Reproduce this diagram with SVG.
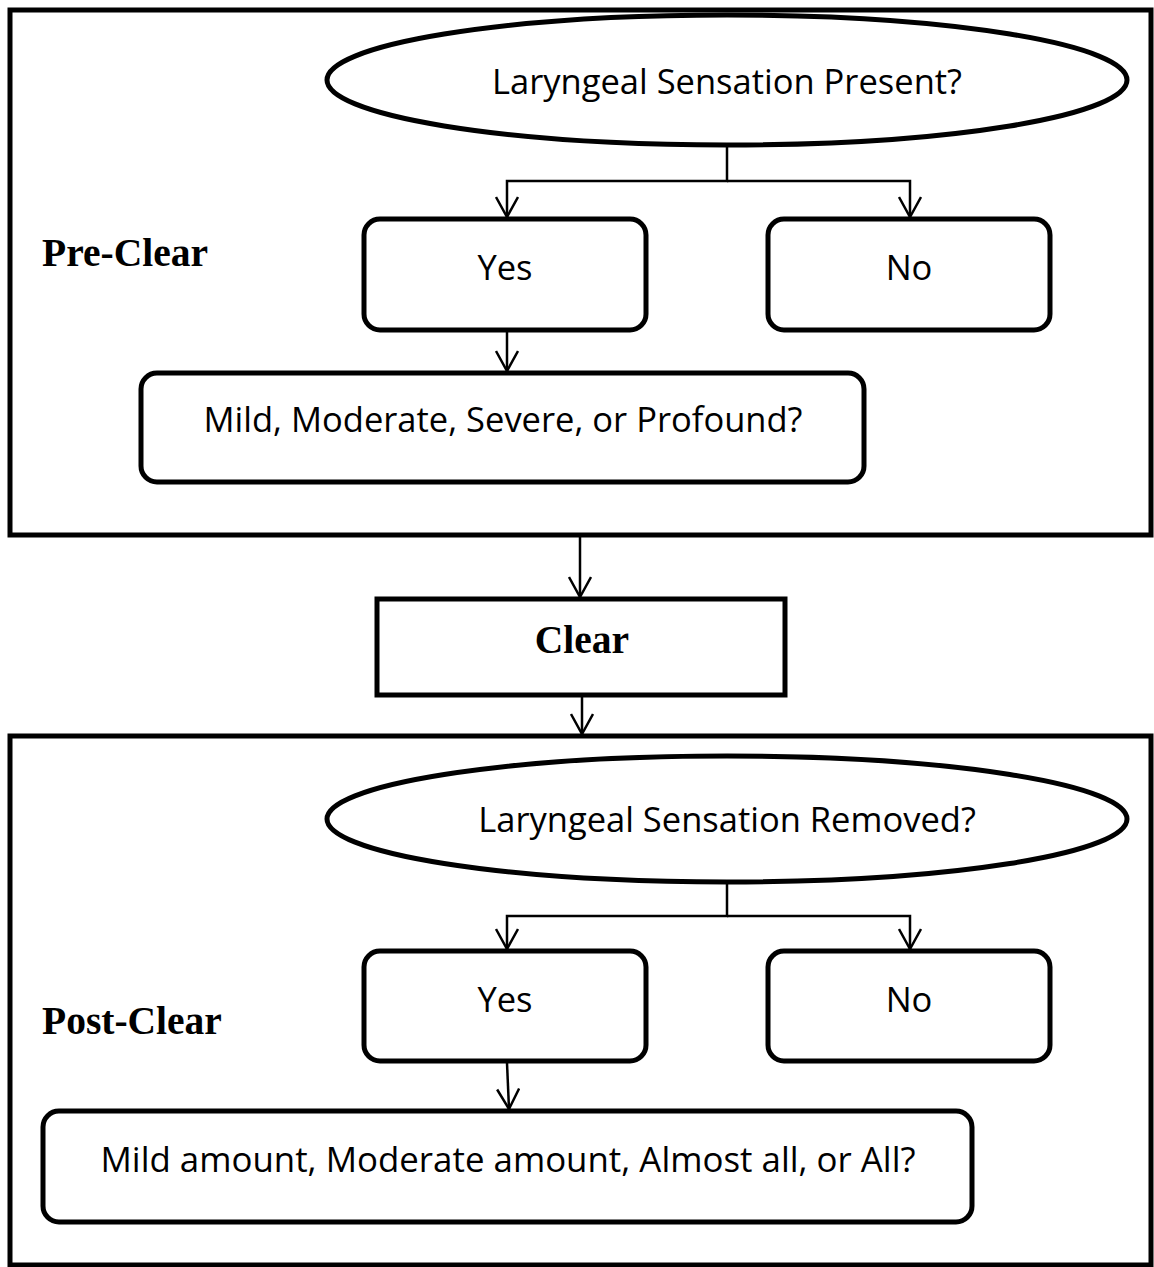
<svg xmlns="http://www.w3.org/2000/svg" width="1154" height="1267" viewBox="0 0 1154 1267">
<style>
.frame{fill:none;stroke:#000;stroke-width:5}
.node{fill:#fff;stroke:#000;stroke-width:5}
.lbl{font-family:"Open Sans","Noto Sans",sans-serif;font-size:34.5px;fill:#000;text-anchor:middle}
.sec{font-family:"Liberation Serif","Times New Roman",serif;font-size:39.5px;font-weight:bold;fill:#000}
.conn{fill:none;stroke:#000;stroke-width:2.5}
</style>
<defs>
<marker id="arr" viewBox="0 0 22 24" refX="21" refY="12" markerWidth="22" markerHeight="24" markerUnits="userSpaceOnUse" orient="auto">
<path d="M1,1 L21,12 L1,23" fill="none" stroke="#000" stroke-width="2.5"/>
</marker>
</defs>
<rect width="1154" height="1267" fill="#fff"/>
<g id="preclear-frame"><rect class="frame" x="10" y="10" width="1141" height="525"/><text class="sec" x="42" y="266">Pre-Clear</text></g>
<g id="postclear-frame"><rect class="frame" x="10" y="736" width="1141" height="529"/><text class="sec" x="42" y="1034">Post-Clear</text></g>
<g id="connectors">
<path class="conn" d="M727,145 V181 H507 V217" marker-end="url(#arr)"/>
<path class="conn" d="M727,181 H910 V217" marker-end="url(#arr)"/>
<path class="conn" d="M507,331 V371" marker-end="url(#arr)"/>
<path class="conn" d="M580,537 V597" marker-end="url(#arr)"/>
<path class="conn" d="M582,697 V734" marker-end="url(#arr)"/>
<path class="conn" d="M727,882 V916 H507 V949" marker-end="url(#arr)"/>
<path class="conn" d="M727,916 H910 V949" marker-end="url(#arr)"/>
<path class="conn" d="M507,1063 L509,1109" marker-end="url(#arr)"/>
</g>
<g id="q1"><ellipse class="node" cx="727" cy="80" rx="400" ry="65"/><text class="lbl" x="727" y="94">Laryngeal Sensation Present?</text></g>
<g id="yes1"><rect class="node" x="364" y="219" width="282" height="111" rx="16"/><text class="lbl" x="505" y="280">Yes</text></g>
<g id="no1"><rect class="node" x="768" y="219" width="282" height="111" rx="16"/><text class="lbl" x="909" y="280">No</text></g>
<g id="sev1"><rect class="node" x="141" y="373" width="723" height="109" rx="16"/><text class="lbl" x="503" y="432">Mild, Moderate, Severe, or Profound?</text></g>
<g id="clear"><rect class="node" x="377" y="599" width="408" height="96"/><text class="sec" x="582" y="653" text-anchor="middle" font-size="42">Clear</text></g>
<g id="q2"><ellipse class="node" cx="727" cy="819" rx="400" ry="63"/><text class="lbl" x="727" y="832">Laryngeal Sensation Removed?</text></g>
<g id="yes2"><rect class="node" x="364" y="951" width="282" height="110" rx="16"/><text class="lbl" x="505" y="1012">Yes</text></g>
<g id="no2"><rect class="node" x="768" y="951" width="282" height="110" rx="16"/><text class="lbl" x="909" y="1012">No</text></g>
<g id="amt2"><rect class="node" x="43" y="1111" width="929" height="111" rx="16"/><text class="lbl" x="508" y="1172" textLength="815" lengthAdjust="spacingAndGlyphs">Mild amount, Moderate amount, Almost all, or All?</text></g>
</svg>
